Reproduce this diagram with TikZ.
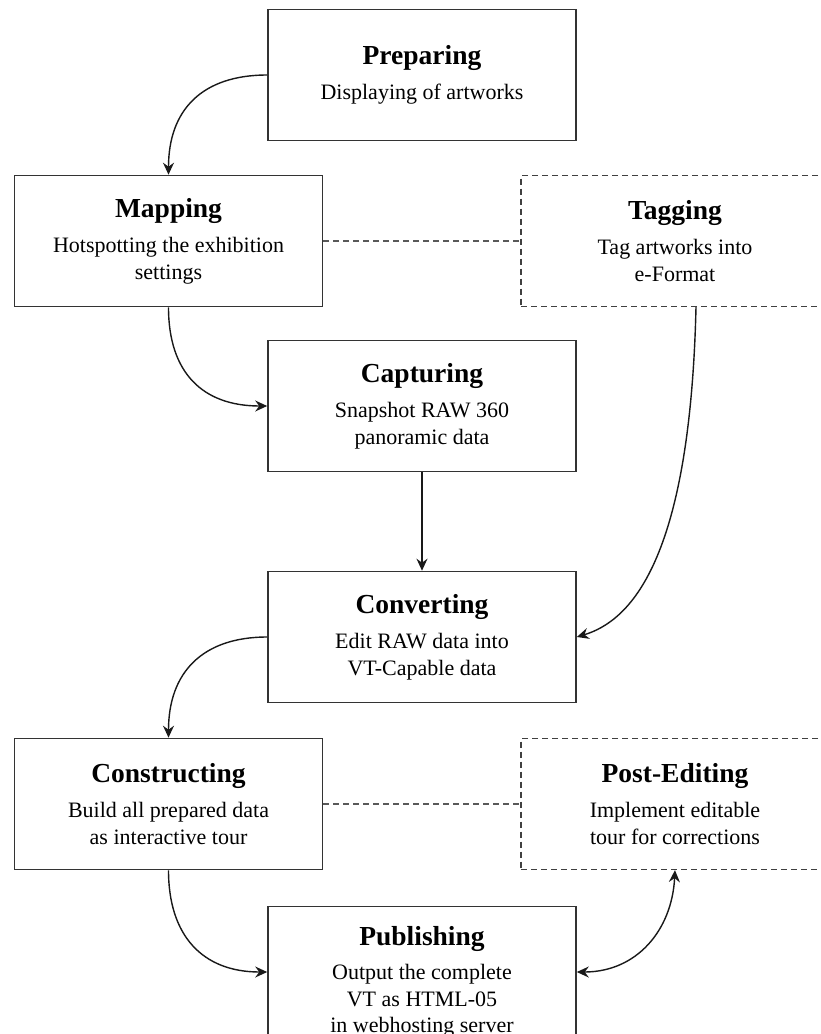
\documentclass[tikz,border=0pt]{standalone}
\usepackage{fontspec}
\setmainfont{Liberation Serif}
\usetikzlibrary{arrows.meta}
\newcommand\ttl[1]{{\fontsize{27.5}{34}\selectfont\bfseries #1}\\[8pt]}
\tikzset{arr/.tip={Stealth[length=12pt,width=11pt,inset=4pt]}}
\begin{document}
\begin{tikzpicture}[x=1pt,y=-1pt,
  box/.style={draw=black!80, line width=1.6pt, minimum width=308pt, minimum height=131pt,
    inner sep=0pt, align=center, font=\fontsize{22}{27}\selectfont},
  dbox/.style={box, draw=black!75, line width=1.3pt, dash pattern=on 6pt off 4pt},
  txt/.style={inner sep=0pt, align=center, font=\fontsize{22}{26.5}\selectfont},
  conn/.style={line width=1.4pt, draw=black!90, -arr},
  both/.style={line width=1.4pt, draw=black!90, arr-arr},
  link/.style={line width=1.2pt, draw=black!65, dash pattern=on 6pt off 4pt},
]
\useasboundingbox (0,0) rectangle (820,1034);

\node[box] (prep) at (422,75) {\ttl{Preparing}Displaying of artworks};
\node[box] (map) at (168.5,241) {\ttl{Mapping}Hotspotting the exhibition\\settings};
\node[dbox] (tag) at (675,241) {\ttl{Tagging}Tag artworks into\\e-Format};
\node[box] (cap) at (422,406) {\ttl{Capturing}Snapshot RAW 360\\panoramic data};
\node[box] (conv) at (422,637) {\ttl{Converting}Edit RAW data into\\VT-Capable data};
\node[box] (cons) at (168.5,804) {\ttl{Constructing}Build all prepared data\\as interactive tour};
\node[dbox] (post) at (675,804) {\ttl{Post-Editing}Implement editable\\tour for corrections};
\node[box] (pub) at (422,972) {};
\node[txt] (pubtext) at (422,982) {\ttl{Publishing}Output the complete\\VT as HTML-05\\in webhosting server};

\draw[conn] (prep.west) .. controls +(-65,0) and +(0,-65) .. (map.north);
\draw[conn] (map.south) .. controls +(0,65) and +(-65,0) .. (cap.west);
\draw[link] (map.east) -- (tag.west);
\coordinate (tagout) at ([xshift=21pt]tag.south);
\draw[conn] (tagout) .. controls +(-6,255) and +(53,-16) .. (conv.east);
\draw[conn] (cap.south) -- (conv.north);
\draw[conn] (conv.west) .. controls +(-65,0) and +(0,-65) .. (cons.north);
\draw[link] (cons.east) -- (post.west);
\draw[conn] (cons.south) .. controls +(0,65) and +(-65,0) .. (pub.west);
\draw[both] (pub.east) .. controls +(60,0) and +(-3,60) .. (post.south);
\end{tikzpicture}
\end{document}
